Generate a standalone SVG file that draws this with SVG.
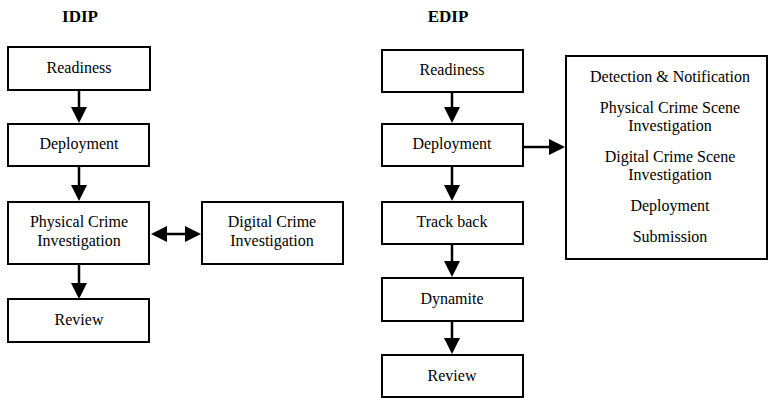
<svg xmlns="http://www.w3.org/2000/svg" width="768" height="398" viewBox="0 0 768 398">
<defs>
<style>
.box{fill:#fff;stroke:#000;stroke-width:2}
.t{font-family:"Liberation Serif","Times New Roman",serif;font-size:16px;fill:#000;text-anchor:middle}
.title{font-family:"Liberation Serif","Times New Roman",serif;font-size:17px;font-weight:bold;fill:#000;text-anchor:middle}
.c{stroke:#000;stroke-width:2.5;fill:none}
</style>
<marker id="ah" markerUnits="userSpaceOnUse" markerWidth="17" markerHeight="17" refX="0" refY="8" orient="auto-start-reverse" viewBox="0 0 17 16">
<path d="M0,0 L16,8 L0,16 Z" fill="#000"/>
</marker>
</defs>
<rect width="768" height="398" fill="#fff"/>
<text class="title" x="80" y="22">IDIP</text>
<text class="title" x="448" y="22">EDIP</text>

<g id="idip-readiness"><rect class="box" x="8" y="47" width="142" height="43"/><text class="t" x="79" y="73">Readiness</text></g>
<g id="idip-deployment"><rect class="box" x="8" y="124" width="141" height="42"/><text class="t" x="79" y="149">Deployment</text></g>
<g id="idip-physical"><rect class="box" x="8" y="202" width="141" height="62"/><text class="t" x="79" y="227">Physical Crime</text><text class="t" x="79" y="246">Investigation</text></g>
<g id="idip-digital"><rect class="box" x="202" y="202" width="141" height="62"/><text class="t" x="272" y="227">Digital Crime</text><text class="t" x="272" y="246">Investigation</text></g>
<g id="idip-review"><rect class="box" x="8" y="299" width="141" height="43"/><text class="t" x="79" y="325">Review</text></g>

<g id="edip-readiness"><rect class="box" x="382" y="50" width="141" height="42"/><text class="t" x="452" y="75">Readiness</text></g>
<g id="edip-deployment"><rect class="box" x="382" y="124" width="141" height="42"/><text class="t" x="452" y="149">Deployment</text></g>
<g id="edip-trackback"><rect class="box" x="382" y="202" width="141" height="42"/><text class="t" x="452" y="227">Track back</text></g>
<g id="edip-dynamite"><rect class="box" x="382" y="278" width="141" height="43"/><text class="t" x="452" y="304">Dynamite</text></g>
<g id="edip-review"><rect class="box" x="382" y="355" width="141" height="42"/><text class="t" x="452" y="381">Review</text></g>
<g id="edip-phases"><rect class="box" x="566" y="56" width="201" height="203"/>
<text class="t" x="670" y="82">Detection &amp; Notification</text>
<text class="t" x="670" y="113">Physical Crime Scene</text>
<text class="t" x="670" y="131">Investigation</text>
<text class="t" x="670" y="162">Digital Crime Scene</text>
<text class="t" x="670" y="180">Investigation</text>
<text class="t" x="670" y="211">Deployment</text>
<text class="t" x="670" y="242">Submission</text>
</g>

<g id="connectors">
<line class="c" x1="79" y1="90" x2="79" y2="107" marker-end="url(#ah)"/>
<line class="c" x1="79" y1="166" x2="79" y2="185" marker-end="url(#ah)"/>
<line class="c" x1="79" y1="264" x2="79" y2="283" marker-end="url(#ah)"/>
<line class="c" x1="167" y1="234" x2="185" y2="234" marker-start="url(#ah)" marker-end="url(#ah)"/>
<line class="c" x1="452" y1="92" x2="452" y2="107" marker-end="url(#ah)"/>
<line class="c" x1="452" y1="166" x2="452" y2="185" marker-end="url(#ah)"/>
<line class="c" x1="452" y1="244" x2="452" y2="261" marker-end="url(#ah)"/>
<line class="c" x1="452" y1="321" x2="452" y2="338" marker-end="url(#ah)"/>
<line class="c" x1="523" y1="147" x2="549" y2="147" marker-end="url(#ah)"/>
</g>
</svg>
